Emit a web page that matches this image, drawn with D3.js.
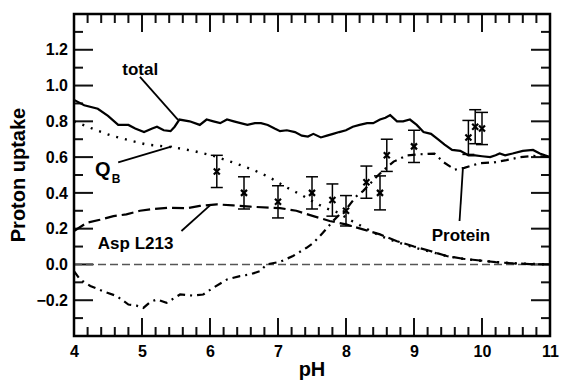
<!DOCTYPE html>
<html>
<head>
<meta charset="utf-8">
<script src="https://cdn.jsdelivr.net/npm/d3@7"></script>
<style>
  html, body { margin: 0; padding: 0; background: #fff; }
  svg { display: block; font-family: "Liberation Sans", Arial, Helvetica, sans-serif; font-weight: bold; }
</style>
</head>
<body>
<div id="chart"></div>
<script>
// Proton uptake vs pH
const totalPH = [4.0, 4.15, 4.35, 4.5, 4.65, 4.8, 4.9, 5.03, 5.15, 5.22, 5.32, 5.42, 5.48, 5.55, 5.7, 5.85, 5.95, 6.05, 6.15, 6.25, 6.35, 6.45, 6.55, 6.66, 6.75, 6.85, 6.95, 7.03, 7.13, 7.25, 7.35, 7.44, 7.52, 7.63, 7.72, 7.81, 7.9, 8.0, 8.1, 8.2, 8.31, 8.4, 8.5, 8.58, 8.65, 8.75, 8.84, 8.94, 9.04, 9.14, 9.25, 9.35, 9.45, 9.56, 9.68, 9.8, 9.9, 10.0, 10.12, 10.2, 10.26, 10.34, 10.45, 10.6, 10.75, 10.85, 11.0];
const totalVal = [0.92, 0.89, 0.87, 0.83, 0.78, 0.78, 0.76, 0.74, 0.76, 0.77, 0.75, 0.745, 0.77, 0.81, 0.80, 0.78, 0.81, 0.80, 0.79, 0.81, 0.80, 0.79, 0.78, 0.79, 0.79, 0.78, 0.76, 0.745, 0.75, 0.74, 0.72, 0.715, 0.73, 0.71, 0.72, 0.73, 0.74, 0.75, 0.77, 0.78, 0.79, 0.79, 0.81, 0.82, 0.835, 0.80, 0.80, 0.81, 0.78, 0.74, 0.73, 0.70, 0.67, 0.64, 0.635, 0.61, 0.61, 0.605, 0.60, 0.61, 0.62, 0.61, 0.62, 0.635, 0.64, 0.62, 0.60];

const qbPH = [4.0, 4.1, 4.33, 4.55, 4.85, 5.07, 5.46, 5.75, 6.05, 6.34, 6.63, 6.88, 7.13, 7.35, 7.57, 7.69, 7.88, 8.1, 8.3, 8.5, 8.75, 9.0, 9.25, 9.5, 9.75, 10.0, 10.25, 10.5, 11.0];
const qbVal = [0.80, 0.785, 0.75, 0.72, 0.69, 0.67, 0.655, 0.635, 0.607, 0.57, 0.53, 0.486, 0.43, 0.387, 0.34, 0.317, 0.29, 0.24, 0.20, 0.16, 0.125, 0.095, 0.07, 0.045, 0.03, 0.02, 0.012, 0.006, 0.0];

const aspPH = [4.0, 4.19, 4.38, 4.58, 4.77, 4.97, 5.17, 5.41, 5.66, 5.85, 6.1, 6.34, 6.59, 6.88, 7.03, 7.27, 7.52, 7.76, 8.0, 8.25, 8.5, 8.75, 9.0, 9.24, 9.48, 9.72, 9.97, 10.2, 10.46, 10.7, 11.0];
const aspVal = [0.187, 0.233, 0.25, 0.27, 0.28, 0.30, 0.31, 0.317, 0.314, 0.327, 0.336, 0.33, 0.323, 0.317, 0.315, 0.30, 0.27, 0.243, 0.224, 0.196, 0.168, 0.13, 0.10, 0.075, 0.047, 0.032, 0.022, 0.013, 0.006, 0.002, 0.0];

const proteinPH = [4.0, 4.09, 4.24, 4.43, 4.63, 4.8, 4.92, 5.02, 5.12, 5.22, 5.36, 5.56, 5.75, 5.9, 6.05, 6.25, 6.44, 6.59, 6.74, 6.83, 7.03, 7.22, 7.42, 7.52, 7.66, 7.81, 7.91, 8.0, 8.15, 8.25, 8.44, 8.54, 8.7, 8.9, 9.1, 9.3, 9.44, 9.6, 9.74, 9.97, 10.17, 10.36, 10.56, 10.76, 11.0];
const proteinVal = [-0.037, -0.084, -0.12, -0.15, -0.177, -0.224, -0.23, -0.243, -0.21, -0.196, -0.215, -0.168, -0.174, -0.168, -0.13, -0.084, -0.065, -0.056, -0.037, 0.0, 0.015, 0.047, 0.093, 0.12, 0.177, 0.243, 0.28, 0.308, 0.38, 0.41, 0.486, 0.523, 0.575, 0.61, 0.616, 0.62, 0.57, 0.53, 0.54, 0.566, 0.57, 0.583, 0.60, 0.607, 0.60];

// measured points with error bars
const measPH = [6.1, 6.5, 7.0, 7.5, 7.8, 8.0, 8.3, 8.5, 8.6, 9.0, 9.8, 9.9, 10.0];
const measVal = [0.52, 0.40, 0.35, 0.40, 0.36, 0.30, 0.46, 0.40, 0.61, 0.66, 0.71, 0.77, 0.76];
const measErr = [0.09, 0.09, 0.09, 0.09, 0.09, 0.085, 0.09, 0.095, 0.09, 0.09, 0.095, 0.095, 0.09];

// tick labels
const xMajor = [4, 5, 6, 7, 8, 9, 10, 11];
const yMajor = [-0.2, 0.0, 0.2, 0.4, 0.6, 0.8, 1.0, 1.2];

// annotation labels and leader lines (data units)
const labelText = ["total", "Q", "Asp L213", "Protein"];
const labelPH = [4.71, 4.31, 4.35, 9.26];
const labelVal = [1.059, 0.494, 0.086, 0.131];
const leaders = [
  [[4.97, 1.048], [5.53, 0.808]],
  [[4.65, 0.57], [5.44, 0.66]],
  [[5.58, 0.187], [6.0, 0.33]],
  [[9.67, 0.243], [9.72, 0.542]]
];

const margin = {top: 14, right: 13, bottom: 44, left: 74};
const width = 563 - margin.left - margin.right;
const height = 380 - margin.top - margin.bottom;

const svg = d3.select("#chart").append("svg")
  .attr("width", 563)
  .attr("height", 380);

const g = svg.append("g")
  .attr("transform", `translate(${margin.left},${margin.top})`);

const x = d3.scaleLinear().domain([4, 11]).range([0, width]);
const y = d3.scaleLinear().domain([-0.4, 1.4]).range([height, 0]);

const xMinor = d3.range(21, 55).filter(i => i % 5 !== 0).map(i => i / 5);
const yMinor = d3.range(-3, 14, 2).map(i => i / 10);

// inward ticks on all four sides, as thin filled bars
const tickG = g.append("g").attr("fill", "#111");
function xTickBars(vals, len) {
  vals.forEach(v => {
    tickG.append("rect").attr("x", x(v) - 1).attr("y", height - len).attr("width", 2).attr("height", len);
    tickG.append("rect").attr("x", x(v) - 1).attr("y", 0).attr("width", 2).attr("height", len);
  });
}
function yTickBars(vals, len) {
  vals.forEach(v => {
    tickG.append("rect").attr("x", 0).attr("y", y(v) - 1).attr("width", len).attr("height", 2);
    tickG.append("rect").attr("x", width - len).attr("y", y(v) - 1).attr("width", len).attr("height", 2);
  });
}
xTickBars(xMajor.slice(1, -1), 18);
xTickBars(xMinor, 9);
yTickBars(yMajor, 19);
yTickBars(yMinor, 9);

// tick labels
const xLab = g.append("g")
  .attr("transform", `translate(0,${height})`)
  .call(d3.axisBottom(x).tickValues(xMajor).tickSize(0).tickPadding(10).tickFormat(d3.format("d")));
xLab.select(".domain").remove();
xLab.selectAll("text").attr("font-size", 16).attr("font-weight", "bold")
  .attr("font-family", "Liberation Sans, Arial, sans-serif").attr("fill", "#000");

const yLab = g.append("g")
  .call(d3.axisLeft(y).tickValues(yMajor).tickSize(0).tickPadding(6).tickFormat(d3.format(".1f")));
yLab.select(".domain").remove();
yLab.selectAll("text").attr("font-size", 16).attr("font-weight", "bold")
  .attr("font-family", "Liberation Sans, Arial, sans-serif").attr("fill", "#000");

// zero line
g.append("line")
  .attr("x1", x(4)).attr("x2", x(11))
  .attr("y1", y(0)).attr("y2", y(0))
  .attr("stroke", "#555")
  .attr("stroke-width", 1.5)
  .attr("stroke-dasharray", "8,4");

const line = d3.line().x(d => x(d[0])).y(d => y(d[1]));

function drawCurve(ph, val, dash, w) {
  g.append("path")
    .datum(d3.zip(ph, val))
    .attr("fill", "none")
    .attr("stroke", "#000")
    .attr("stroke-width", w)
    .attr("stroke-dasharray", dash)
    .attr("d", line);
}
drawCurve(aspPH, aspVal, "12,5", 2.2);
drawCurve(qbPH, qbVal, "2,7", 2.4);
drawCurve(proteinPH, proteinVal, "8,5,2,5", 2.2);
drawCurve(totalPH, totalVal, null, 2.2);

// error bars with x markers
const meas = d3.zip(measPH, measVal, measErr);
const eb = g.append("g").attr("stroke", "#000").attr("stroke-width", 1.5).attr("fill", "none");
eb.selectAll(".bar").data(meas).enter().append("line")
  .attr("x1", d => x(d[0])).attr("x2", d => x(d[0]))
  .attr("y1", d => y(d[1] - d[2])).attr("y2", d => y(d[1] + d[2]));
eb.selectAll(".capTop").data(meas).enter().append("line")
  .attr("x1", d => x(d[0]) - 6).attr("x2", d => x(d[0]) + 6)
  .attr("y1", d => y(d[1] + d[2])).attr("y2", d => y(d[1] + d[2]));
eb.selectAll(".capBot").data(meas).enter().append("line")
  .attr("x1", d => x(d[0]) - 6).attr("x2", d => x(d[0]) + 6)
  .attr("y1", d => y(d[1] - d[2])).attr("y2", d => y(d[1] - d[2]));
eb.selectAll(".mark").data(meas).enter().append("path")
  .attr("stroke-width", 2.2)
  .attr("d", d => {
    const cx = x(d[0]), cy = y(d[1]);
    return `M${cx - 3},${cy - 3}L${cx + 3},${cy + 3}M${cx - 3},${cy + 3}L${cx + 3},${cy - 3}`;
  });

// annotations
g.selectAll(".leader").data(leaders).enter().append("path")
  .attr("fill", "none")
  .attr("stroke", "#000")
  .attr("stroke-width", 1.8)
  .attr("d", line);

labelText.forEach((t, i) => {
  const txt = g.append("text")
    .attr("x", x(labelPH[i]))
    .attr("y", y(labelVal[i]))
    .attr("font-size", i === 1 ? 20 : 17)
    .attr("fill", "#000")
    .text(t);
  if (t === "Q") {
    txt.append("tspan").attr("font-size", 12).attr("dx", 1).attr("dy", 7).text("B");
  }
});

// frame
g.append("rect")
  .attr("width", width)
  .attr("height", height)
  .attr("fill", "none")
  .attr("stroke", "#000")
  .attr("stroke-width", 2.5);

// axis titles
svg.append("text")
  .attr("x", margin.left + width / 2)
  .attr("y", 376)
  .attr("text-anchor", "middle")
  .attr("font-size", 20)
  .text("pH");

svg.append("text")
  .attr("transform", `translate(25,${margin.top + y(0.5)}) rotate(-90)`)
  .attr("text-anchor", "middle")
  .attr("font-size", 20)
  .text("Proton uptake");
</script>
</body>
</html>
